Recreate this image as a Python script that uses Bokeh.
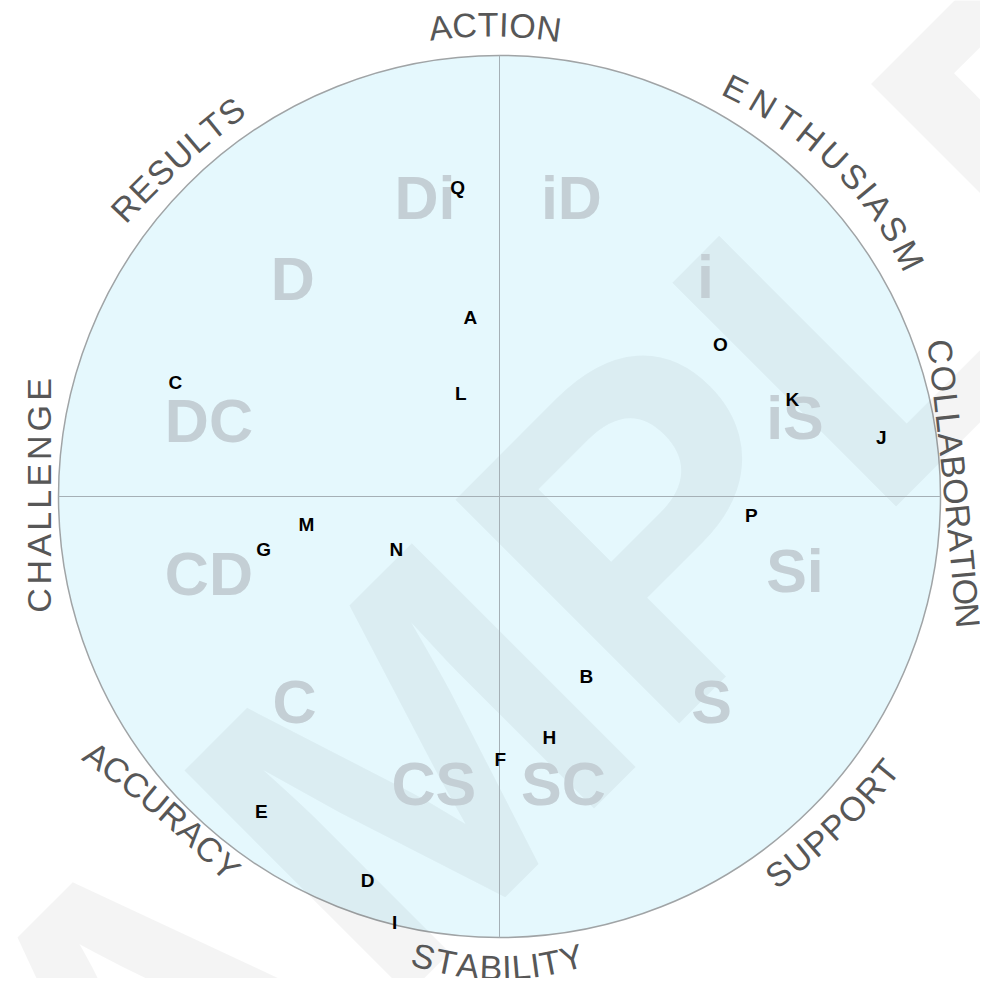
import math
from bokeh.plotting import figure
from bokeh.models import Range1d, ColumnDataSource
from bokeh.core.properties import value
from bokeh.embed import file_html
from bokeh.resources import INLINE

# ---------------- data (circle radius = 1) ----------------
point_names = ["Q", "A", "L", "C", "O", "K", "J", "P", "M", "G", "N", "B", "H", "F", "E", "D", "I"]
point_x = [-0.095, -0.066, -0.088, -0.735, 0.501, 0.664, 0.866, 0.571, -0.438, -0.535, -0.234,
           0.197, 0.113, 0.002, -0.540, -0.299, -0.238]
point_y = [0.701, 0.406, 0.234, 0.259, 0.345, 0.220, 0.134, -0.043, -0.063, -0.120, -0.120,
           -0.408, -0.546, -0.596, -0.714, -0.871, -0.966]

style_names = ["Di", "iD", "D", "i", "DC", "iS", "CD", "Si", "C", "S", "CS", "SC"]
style_x = [-0.169, 0.163, -0.469, 0.467, -0.659, 0.670, -0.659, 0.670, -0.465, 0.481, -0.149, 0.145]
style_y = [0.676, 0.676, 0.494, 0.497, 0.172, 0.179, -0.175, -0.168, -0.467, -0.467, -0.651, -0.651]

ring_labels = ["ACTION", "ENTHUSIASM", "COLLABORATION", "SUPPORT",
               "STABILITY", "ACCURACY", "CHALLENGE", "RESULTS"]

# ---------------- layout ----------------
W, H = 980, 978
PX = 441.0          # circle radius in pixels
CX, CY = 499, 496   # circle centre in figure pixels


def img(xp, yp):
    # picture pixel -> data units
    return ((xp - CX) / PX, (CY - yp) / PX)


# paths for ring labels: first letter centre, middle, last letter centre (picture pixels)
ring_paths = {
    "ACTION": [(439.5, 27), (494, 24), (548.5, 28)],
    "ENTHUSIASM": [(735, 88), (838, 160), (908, 255)],
    "COLLABORATION": [(940, 351), (955, 488), (967, 615)],
    "SUPPORT": [(778, 873), (835, 825), (885, 771)],
    "STABILITY": [(423, 956), (498, 967), (571, 957)],
    "ACCURACY": [(96.5, 755.5), (163, 807), (226, 866)],
    "CHALLENGE": [(38.5, 600), (38.5, 495), (38.5, 389)],
    "RESULTS": [(125, 207), (176, 157), (231, 111)],
}

ADV = {"A": .667, "B": .667, "C": .722, "D": .722, "E": .667, "G": .778, "H": .722,
       "I": .278, "L": .556, "M": .833, "N": .722, "O": .778, "P": .667, "R": .722,
       "S": .667, "T": .611, "U": .722, "Y": .667}

rx, ry, rt, ra = [], [], [], []
for lab in ring_labels:
    P0, Pm, P2 = [img(*q) for q in ring_paths[lab]]
    C = (2 * Pm[0] - 0.5 * (P0[0] + P2[0]), 2 * Pm[1] - 0.5 * (P0[1] + P2[1]))
    centres, cum = [], 0.0
    for ch in lab:
        centres.append(cum + ADV[ch] / 2)
        cum += ADV[ch]
    c0, c1 = centres[0], centres[-1]
    for ch, c in zip(lab, centres):
        t = (c - c0) / (c1 - c0)
        bx = (1 - t) ** 2 * P0[0] + 2 * t * (1 - t) * C[0] + t ** 2 * P2[0]
        by = (1 - t) ** 2 * P0[1] + 2 * t * (1 - t) * C[1] + t ** 2 * P2[1]
        dx = 2 * (1 - t) * (C[0] - P0[0]) + 2 * t * (P2[0] - C[0])
        dy = 2 * (1 - t) * (C[1] - P0[1]) + 2 * t * (P2[1] - C[1])
        rx.append(bx)
        ry.append(by)
        rt.append(ch)
        ra.append(math.atan2(dy, dx))

p = figure(width=W, height=H,
           x_range=Range1d(-CX / PX, (W - CX) / PX),
           y_range=Range1d((CY - H) / PX, CY / PX),
           output_backend="svg", toolbar_location=None, min_border=0,
           x_axis_location=None, y_axis_location=None)
p.xgrid.visible = False
p.ygrid.visible = False
p.outline_line_color = None
p.background_fill_color = "white"
p.border_fill_color = "white"

# disc
p.circle(x=[0], y=[0], radius=1, fill_color="#e5f8fd", line_color="#a0a4a6", line_width=1.5)

# watermark
wx, wy = img(499, 677)
p.text(x=[wx], y=[wy], text=["SAMPLE"], angle=math.pi / 4,
       text_font=value("Liberation Sans"), text_font_style="bold", text_font_size="460px",
       text_color="black", text_alpha=0.045, text_align="center", text_baseline="alphabetic")

# quadrant lines
p.segment(x0=[-1, 0], y0=[0, -1], x1=[1, 0], y1=[0, 1], line_color="#a5b0b6", line_width=1)

# style labels
p.text(x=style_x, y=style_y, text=style_names,
       text_font=value("Liberation Sans"), text_font_style="bold", text_font_size="61px",
       text_color="#c4cfd5", text_align="center", text_baseline="middle")

# people
p.text(x=point_x, y=point_y, text=point_names,
       text_font=value("Liberation Sans"), text_font_style="bold", text_font_size="19px",
       text_color="black", text_align="center", text_baseline="middle")

# ring labels
src = ColumnDataSource(dict(x=rx, y=ry, text=rt, angle=ra))
p.text(x="x", y="y", text="text", angle="angle", source=src,
       text_font=value("Liberation Sans"), text_font_size="34px",
       text_color="#575757", text_align="center", text_baseline="middle")

open("out.html", "w").write(file_html(p, INLINE))
